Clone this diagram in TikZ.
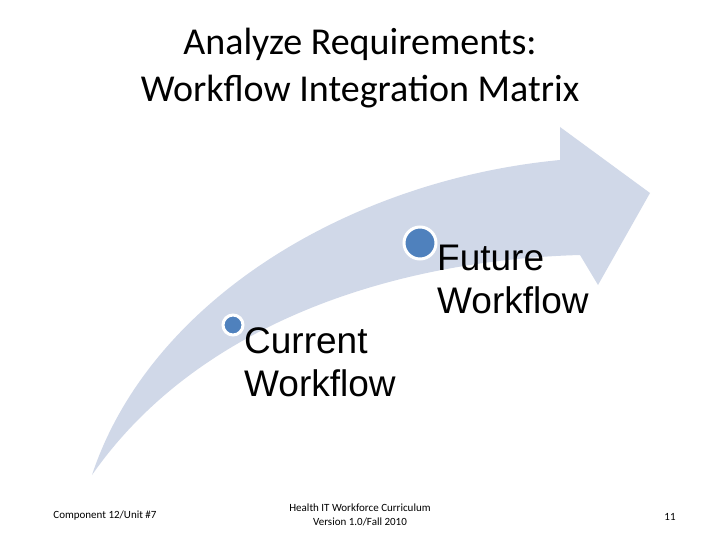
\documentclass[tikz,border=0pt]{standalone}
\usepackage{fontspec}
\setmainfont{Carlito}
\newfontfamily\arialf{Liberation Sans}
\definecolor{band}{RGB}{208,216,232}
\definecolor{dot}{RGB}{79,129,189}
\begin{document}
\begin{tikzpicture}[x=1pt,y=-1pt,
  lbl/.style={font=\arialf\fontsize{37}{43}\selectfont,align=left,anchor=north west,inner sep=0},
  foot/.style={font=\fontsize{11}{14}\selectfont,align=center,inner sep=0},
  ring/.style={circle,fill=dot,draw=white,line width=3pt,inner sep=0}]
\useasboundingbox (0,0) rectangle (720,540);
\fill[white] (0,0) rectangle (720,540);
\node[font=\fontsize{38}{47}\selectfont,align=center] (title) at (360,68) {Analyze Requirements:\\Workflow Integration Matrix};
\fill[band] (92,475) .. controls (150,300) and (350,180) .. (560,160)
  -- (560,127) -- (650,193) -- (598,285) -- (580,255)
  .. controls (400,260) and (200,320) .. (92,475) -- cycle;
\node[ring,minimum size=20pt] (c1) at (233,325) {};
\node[ring,minimum size=32pt] (c2) at (420,243) {};
\node[lbl] (t1) at (244,327) {Current\\Workflow};
\node[lbl] (t2) at (437,245) {Future\\Workflow};
\node[foot] (f1) at (105,516) {Component 12/Unit \#7};
\node[foot] (f2) at (360,515) {Health IT Workforce Curriculum\\Version 1.0/Fall 2010};
\node[foot] (f3) at (670,517) {11};
\end{tikzpicture}
\end{document}
